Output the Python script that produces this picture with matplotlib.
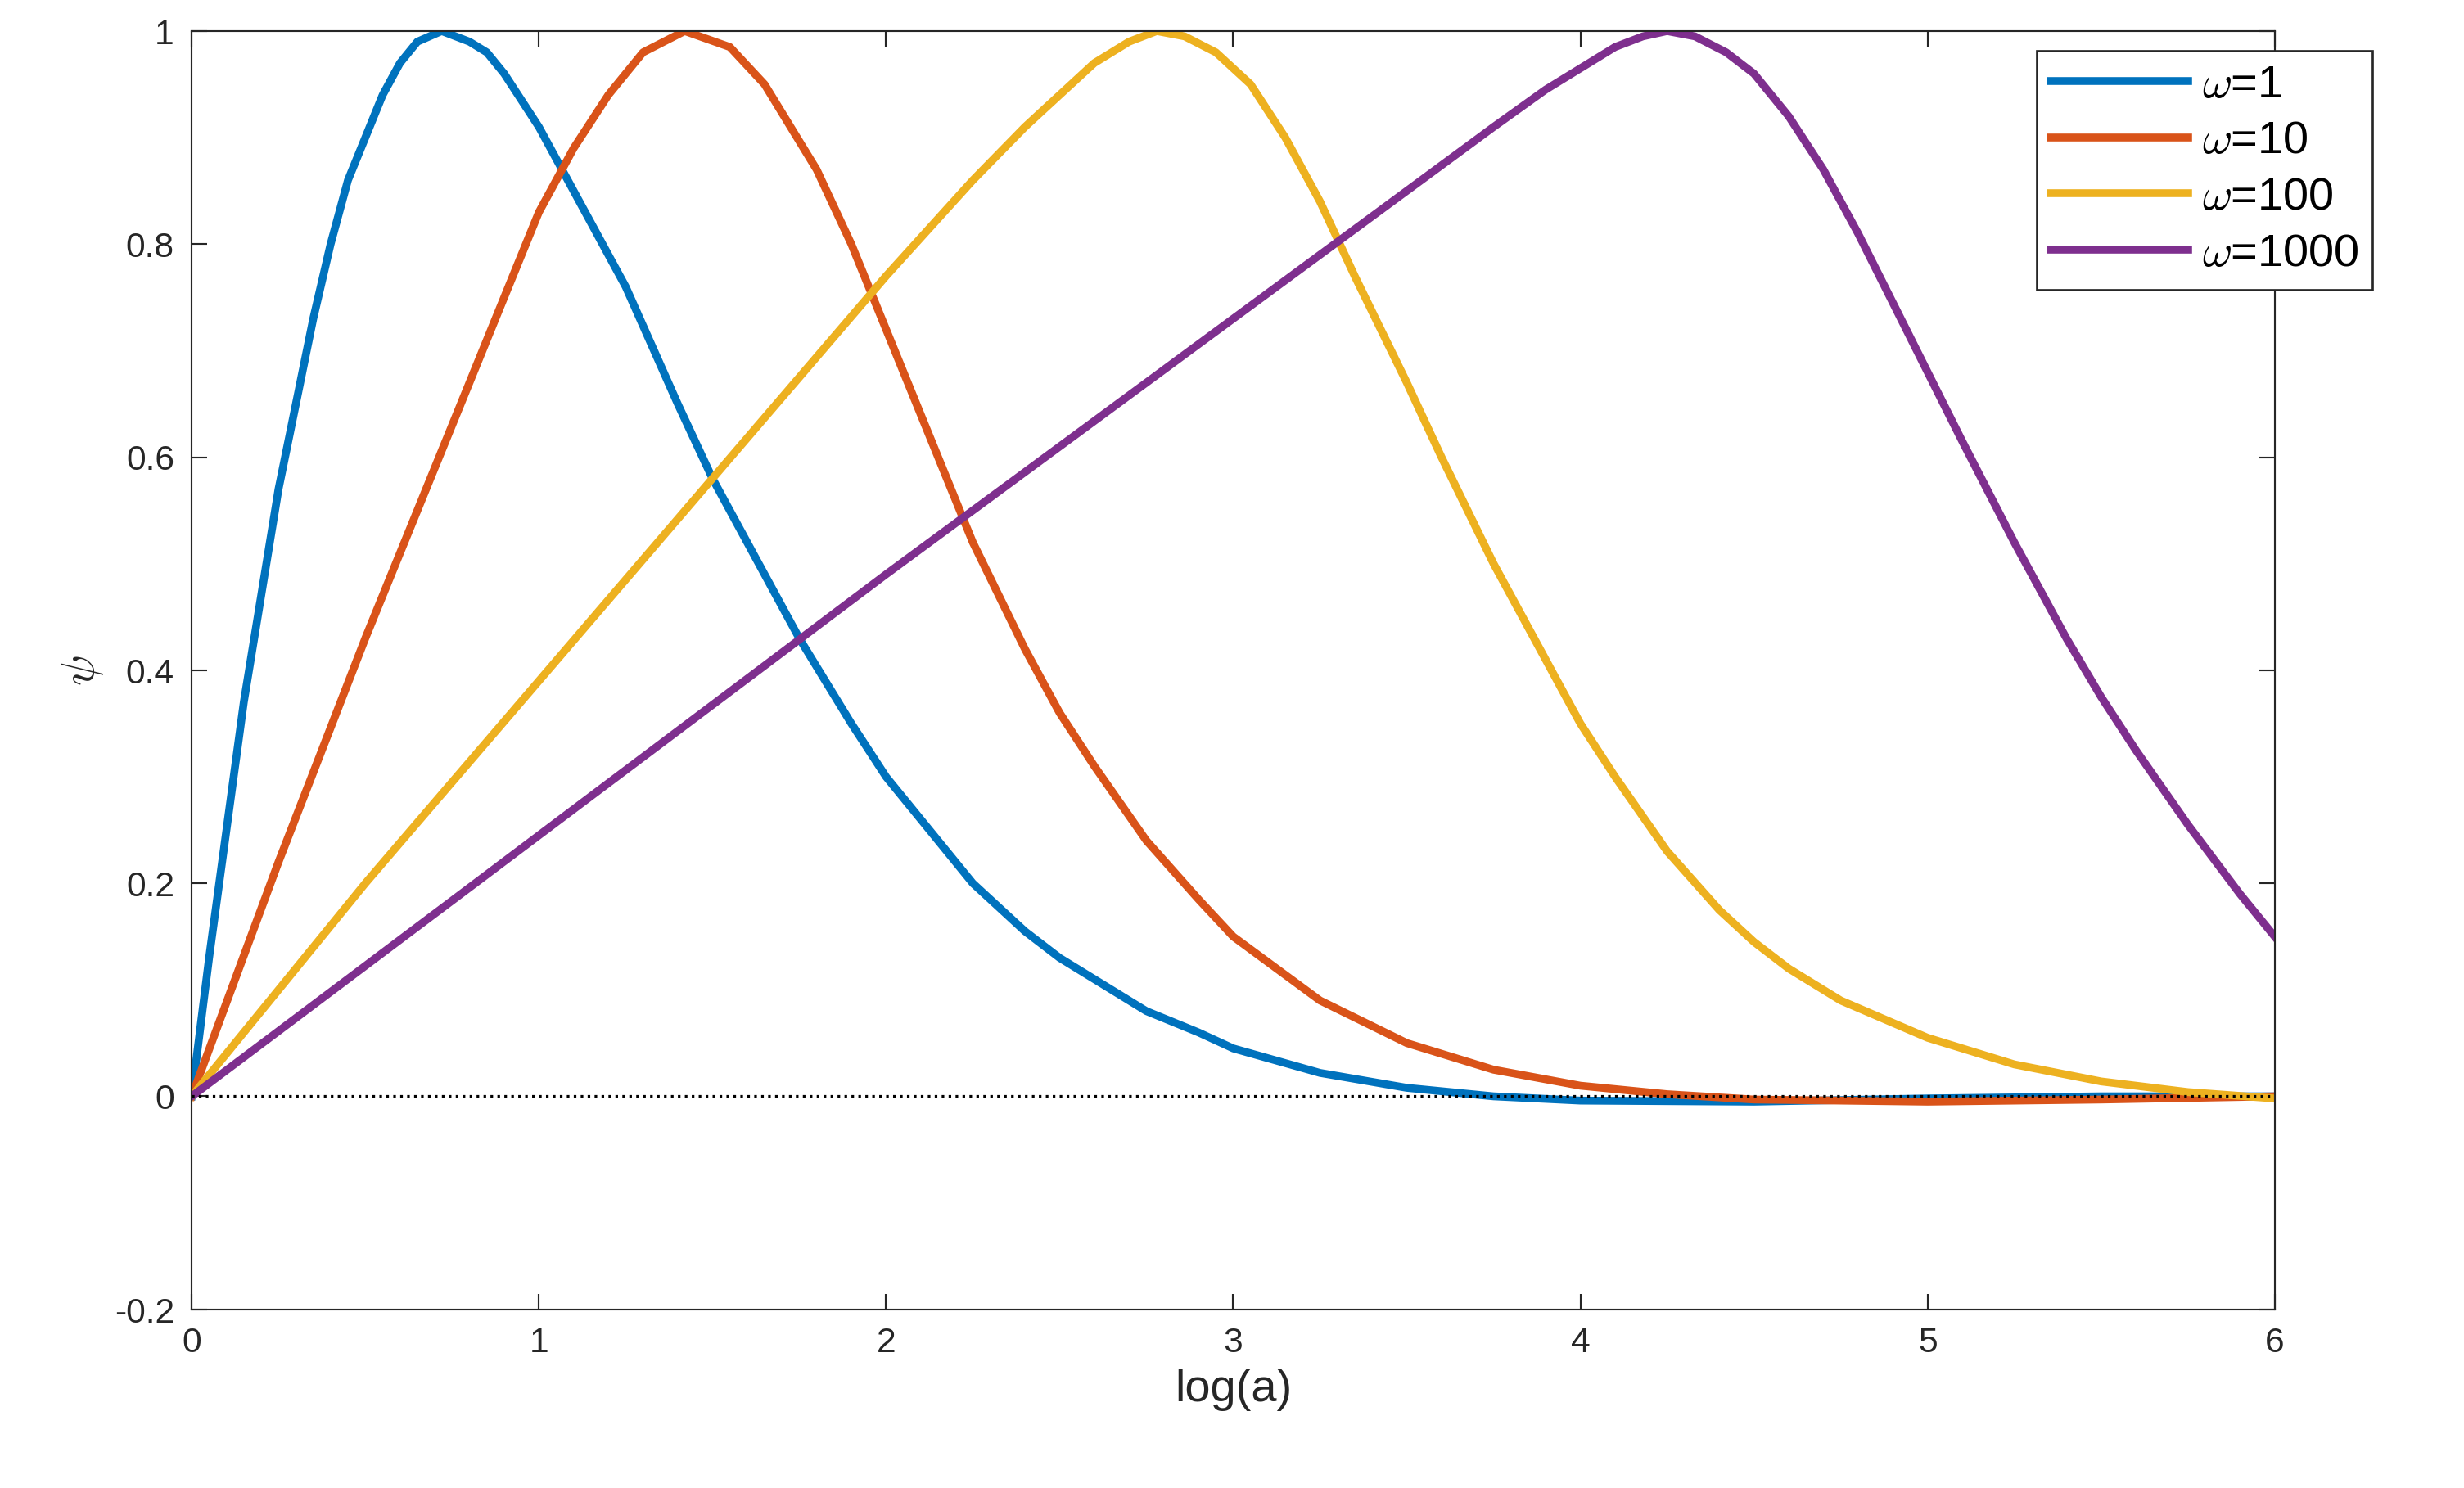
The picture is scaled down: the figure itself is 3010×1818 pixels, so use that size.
import numpy as np
import matplotlib
matplotlib.use("Agg")
from matplotlib import pyplot as plt

plt.rcParams['font.family'] = ['Liberation Sans', 'DejaVu Sans']
plt.rcParams['mathtext.fontset'] = 'cm'

# values
x_w1 = [0, 0.05, 0.1, 0.15, 0.2, 0.25, 0.3, 0.35, 0.4, 0.45, 0.5, 0.55, 0.6, 0.65, 0.72, 0.8, 0.85, 0.9, 1.0, 1.1, 1.25, 1.4, 1.5, 1.6, 1.75, 1.9, 2.0, 2.15, 2.25, 2.4, 2.5, 2.65, 2.75, 2.9, 3.0, 3.25, 3.5, 3.75, 4.0, 4.5, 5.0, 5.5, 6.0]
y_w1 = [0, 0.13, 0.25, 0.37, 0.47, 0.57, 0.65, 0.73, 0.8, 0.86, 0.9, 0.94, 0.97, 0.99, 1.0, 0.99, 0.98, 0.96, 0.91, 0.85, 0.76, 0.65, 0.58, 0.52, 0.43, 0.35, 0.3, 0.24, 0.2, 0.155, 0.13, 0.1, 0.08, 0.06, 0.045, 0.022, 0.008, 0.0, -0.004, -0.005, -0.002, 0.0, 0]

x_w10 = [0, 0.25, 0.5, 0.75, 1.0, 1.1, 1.2, 1.3, 1.42, 1.55, 1.65, 1.8, 1.9, 2.0, 2.1, 2.25, 2.4, 2.5, 2.6, 2.75, 2.9, 3.0, 3.25, 3.5, 3.75, 4.0, 4.25, 4.5, 5.0, 5.5, 6.0]
y_w10 = [0, 0.22, 0.43, 0.63, 0.83, 0.89, 0.94, 0.98, 1.0, 0.985, 0.95, 0.87, 0.8, 0.72, 0.64, 0.52, 0.42, 0.36, 0.31, 0.24, 0.185, 0.15, 0.09, 0.05, 0.025, 0.01, 0.002, -0.003, -0.005, -0.003, 0]

x_w100 = [0, 0.5, 1.0, 1.5, 2.0, 2.25, 2.4, 2.5, 2.6, 2.7, 2.78, 2.86, 2.95, 3.05, 3.15, 3.25, 3.35, 3.5, 3.6, 3.75, 3.9, 4.0, 4.1, 4.25, 4.4, 4.5, 4.6, 4.75, 5.0, 5.25, 5.5, 5.75, 6.0]
y_w100 = [0, 0.2, 0.39, 0.58, 0.77, 0.86, 0.91, 0.94, 0.97, 0.99, 1.0, 0.995, 0.98, 0.95, 0.9, 0.84, 0.77, 0.67, 0.6, 0.5, 0.41, 0.35, 0.3, 0.23, 0.175, 0.145, 0.12, 0.09, 0.055, 0.03, 0.014, 0.004, -0.002]

x_w1000 = [0, 1.0, 2.0, 3.0, 3.25, 3.5, 3.75, 3.9, 4.0, 4.1, 4.18, 4.25, 4.33, 4.42, 4.5, 4.6, 4.7, 4.8, 4.9, 5.0, 5.1, 5.25, 5.4, 5.5, 5.6, 5.75, 5.9, 6.0]
y_w1000 = [0, 0.245, 0.49, 0.73, 0.79, 0.85, 0.91, 0.945, 0.965, 0.985, 0.995, 1.0, 0.995, 0.98, 0.96, 0.92, 0.87, 0.81, 0.745, 0.68, 0.615, 0.52, 0.43, 0.375, 0.325, 0.255, 0.19, 0.15]

series = [
	(x_w1, y_w1, '#0072BD', r'$\omega$=1'),
	(x_w10, y_w10, '#D95319', r'$\omega$=10'),
	(x_w100, y_w100, '#EDB120', r'$\omega$=100'),
	(x_w1000, y_w1000, '#7E2F8E', r'$\omega$=1000'),
]

fig = plt.figure(figsize=(15.68, 9.47), dpi=192)
ax = fig.add_axes([0.0778, 0.120, 0.8452, 0.859])

for xs, ys, c, lab in series:
	ax.plot(xs, ys, color=c, lw=3.6, label=lab, solid_joinstyle='round')

ax.axhline(0, color='k', ls=':', lw=1.2)

ax.set_xlim(0, 6)
ax.set_ylim(-0.2, 1)
ax.set_xticks(range(7))
ax.set_yticks([-0.2, 0, 0.2, 0.4, 0.6, 0.8, 1])
ax.set_yticklabels(['-0.2', '0', '0.2', '0.4', '0.6', '0.8', '1'])
ax.tick_params(direction='in', top=True, right=True, labelsize=16, length=7, colors='#262626', pad=8)
for s in ax.spines.values():
	s.set_color('#262626')
ax.set_xlabel('log(a)', fontsize=21, color='#262626')
ax.set_ylabel(r'$\psi$', fontsize=21, color='#262626')

leg = ax.legend(loc='upper left', bbox_to_anchor=(0.8265, 0.966), bbox_transform=fig.transFigure,
	fontsize=21, fancybox=False, framealpha=1, edgecolor='#262626', handlelength=3.0,
	borderaxespad=0, borderpad=0.3, labelspacing=0.3, handletextpad=0.3)
leg.get_frame().set_linewidth(1.0)

fig.savefig('out.png', dpi=192)
